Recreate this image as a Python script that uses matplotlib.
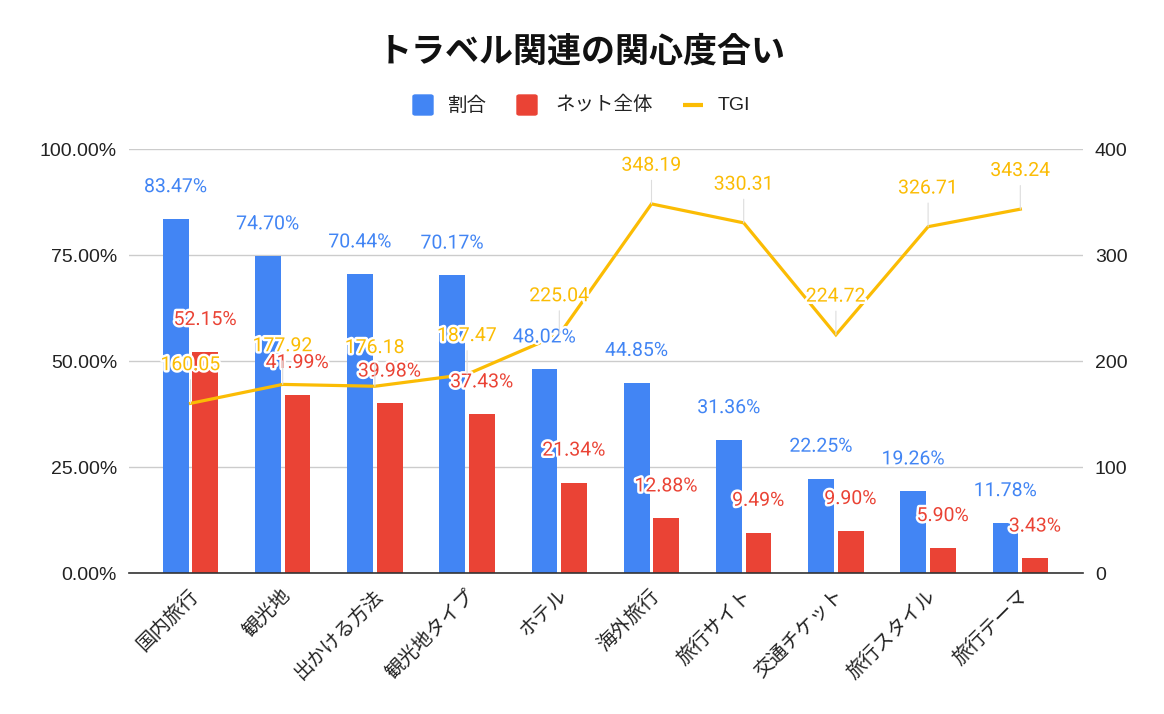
import matplotlib
matplotlib.use("Agg")
import matplotlib.pyplot as plt
from matplotlib.patches import FancyBboxPatch, Rectangle
from matplotlib.lines import Line2D
from matplotlib.transforms import ScaledTranslation
import matplotlib.patheffects as pe
from matplotlib.ticker import FuncFormatter, FixedLocator

categories = ["国内旅行", "観光地", "出かける方法", "観光地タイプ", "ホテル",
              "海外旅行", "旅行サイト", "交通チケット", "旅行スタイル", "旅行テーマ"]
share = [83.47, 74.70, 70.44, 70.17, 48.02, 44.85, 31.36, 22.25, 19.26, 11.78]
net_total = [52.15, 41.99, 39.98, 37.43, 21.34, 12.88, 9.49, 9.90, 5.90, 3.43]
tgi = [160.05, 177.92, 176.18, 187.47, 225.04, 348.19, 330.31, 224.72, 326.71, 343.24]
left_ticks = [0, 25, 50, 75, 100]
right_ticks = [0, 100, 200, 300, 400]
series_names = ["割合", "ネット全体", "TGI"]

BLUE = "#4285F4"
RED = "#EA4335"
YELLOW = "#FBBC04"

JP = ["Noto Sans CJK JP", "DejaVu Sans"]
NUM = ["Liberation Sans", "DejaVu Sans"]
LBL = ["Roboto", "DejaVu Sans"]

W, H = 1164, 714
fig = plt.figure(figsize=(W / 100, H / 100), dpi=100)
ax = fig.add_axes([129 / W, 1 - 573 / H, (1083 - 129) / W, (573 - 149) / H])
ax2 = ax.twinx()

x = list(range(len(categories)))
bw = 0.28
off = 0.16
ax.bar([i - off for i in x], share, width=bw, color=BLUE, zorder=2)
ax.bar([i + off for i in x], net_total, width=bw, color=RED, zorder=2)
ax2.plot(x, tgi, color=YELLOW, lw=2.3, solid_joinstyle="miter", zorder=3)

ax.set_xlim(-0.667, 9.68)
ax.set_ylim(0, 100)
ax2.set_ylim(0, 400)

ax.yaxis.set_major_locator(FixedLocator(left_ticks))
ax.yaxis.set_major_formatter(FuncFormatter(lambda v, p: f"{v:.2f}%"))
ax2.yaxis.set_major_locator(FixedLocator(right_ticks))
ax2.yaxis.set_major_formatter(FuncFormatter(lambda v, p: f"{v:.0f}"))

ax.grid(axis="y", color="#cccccc", lw=1, zorder=0)
ax.set_axisbelow(True)
for a in (ax, ax2):
    for s in a.spines.values():
        s.set_visible(False)
ax.spines["bottom"].set_visible(True)
ax.spines["bottom"].set_color("#333333")
ax.spines["bottom"].set_linewidth(1.2)
ax.spines["bottom"].set_zorder(5)

ax.tick_params(axis="y", length=0, pad=8.6, labelsize=14, labelcolor="#222222")
ax2.tick_params(axis="y", length=0, pad=8.6, labelsize=14, labelcolor="#222222")
for lab in ax.get_yticklabels() + ax2.get_yticklabels():
    lab.set_family(NUM)

ax.set_xticks(x)
ax.set_xticklabels(categories, rotation=45, ha="right", va="center",
                   rotation_mode="anchor", fontsize=14, color="#222222")
ax.tick_params(axis="x", length=0, pad=14)
for lab in ax.get_xticklabels():
    lab.set_family(JP)
    lab.set_transform(lab.get_transform() + ScaledTranslation(5 / 100, 0, fig.dpi_scale_trans))

halo = [pe.withStroke(linewidth=3.5, foreground="white")]
for i, v in enumerate(share):
    ax2.annotate(f"{v:.2f}%", xy=(i - off, v), xycoords=ax.transData,
                 xytext=(0, 23), textcoords="offset points", ha="center", va="center",
                 fontsize=14, color=BLUE, family=LBL, path_effects=halo, zorder=6,
                 annotation_clip=False)
for i, v in enumerate(net_total):
    ax2.annotate(f"{v:.2f}%", xy=(i + off, v), xycoords=ax.transData,
                 xytext=(0, 23), textcoords="offset points", ha="center", va="center",
                 fontsize=14, color=RED, family=LBL, path_effects=halo, zorder=7,
                 annotation_clip=False)
for i, v in enumerate(tgi):
    ax2.annotate(f"{v:.2f}", xy=(i, v), xycoords="data",
                 xytext=(0, 27.5), textcoords="offset points", ha="center", va="center",
                 fontsize=14, color=YELLOW, family=LBL, path_effects=halo, zorder=8,
                 annotation_clip=False,
                 arrowprops=dict(arrowstyle="-", color="#dddddd", lw=0.8,
                                 shrinkA=2, shrinkB=0))

# title
fig.text(0.5, 1 - 51 / H, "トラベル関連の関心度合い", ha="center", va="center",
         fontsize=24.5, fontweight="bold", family=JP, color="#111111")

# legend
ly = 1 - 105 / H
sq = 20
def px(xp):
    return xp / W
fig.add_artist(FancyBboxPatch((px(413), ly - (sq / 2) / H), sq / W, sq / H,
                              boxstyle="round,pad=0,rounding_size=0.002",
                              transform=fig.transFigure, color=BLUE))
fig.text(px(448), ly, series_names[0], ha="left", va="center", fontsize=14, family=JP, color="#222222")
fig.add_artist(FancyBboxPatch((px(517), ly - (sq / 2) / H), sq / W, sq / H,
                              boxstyle="round,pad=0,rounding_size=0.002",
                              transform=fig.transFigure, color=RED))
fig.text(px(555), ly, series_names[1], ha="left", va="center", fontsize=14, family=JP, color="#222222")
fig.add_artist(Line2D([px(683), px(703)], [ly, ly], transform=fig.transFigure,
                      color=YELLOW, lw=3, solid_capstyle="butt"))
fig.text(px(718), ly, series_names[2], ha="left", va="center", fontsize=14, family=NUM, color="#222222")

fig.savefig("out.png", dpi=100, facecolor="white")
